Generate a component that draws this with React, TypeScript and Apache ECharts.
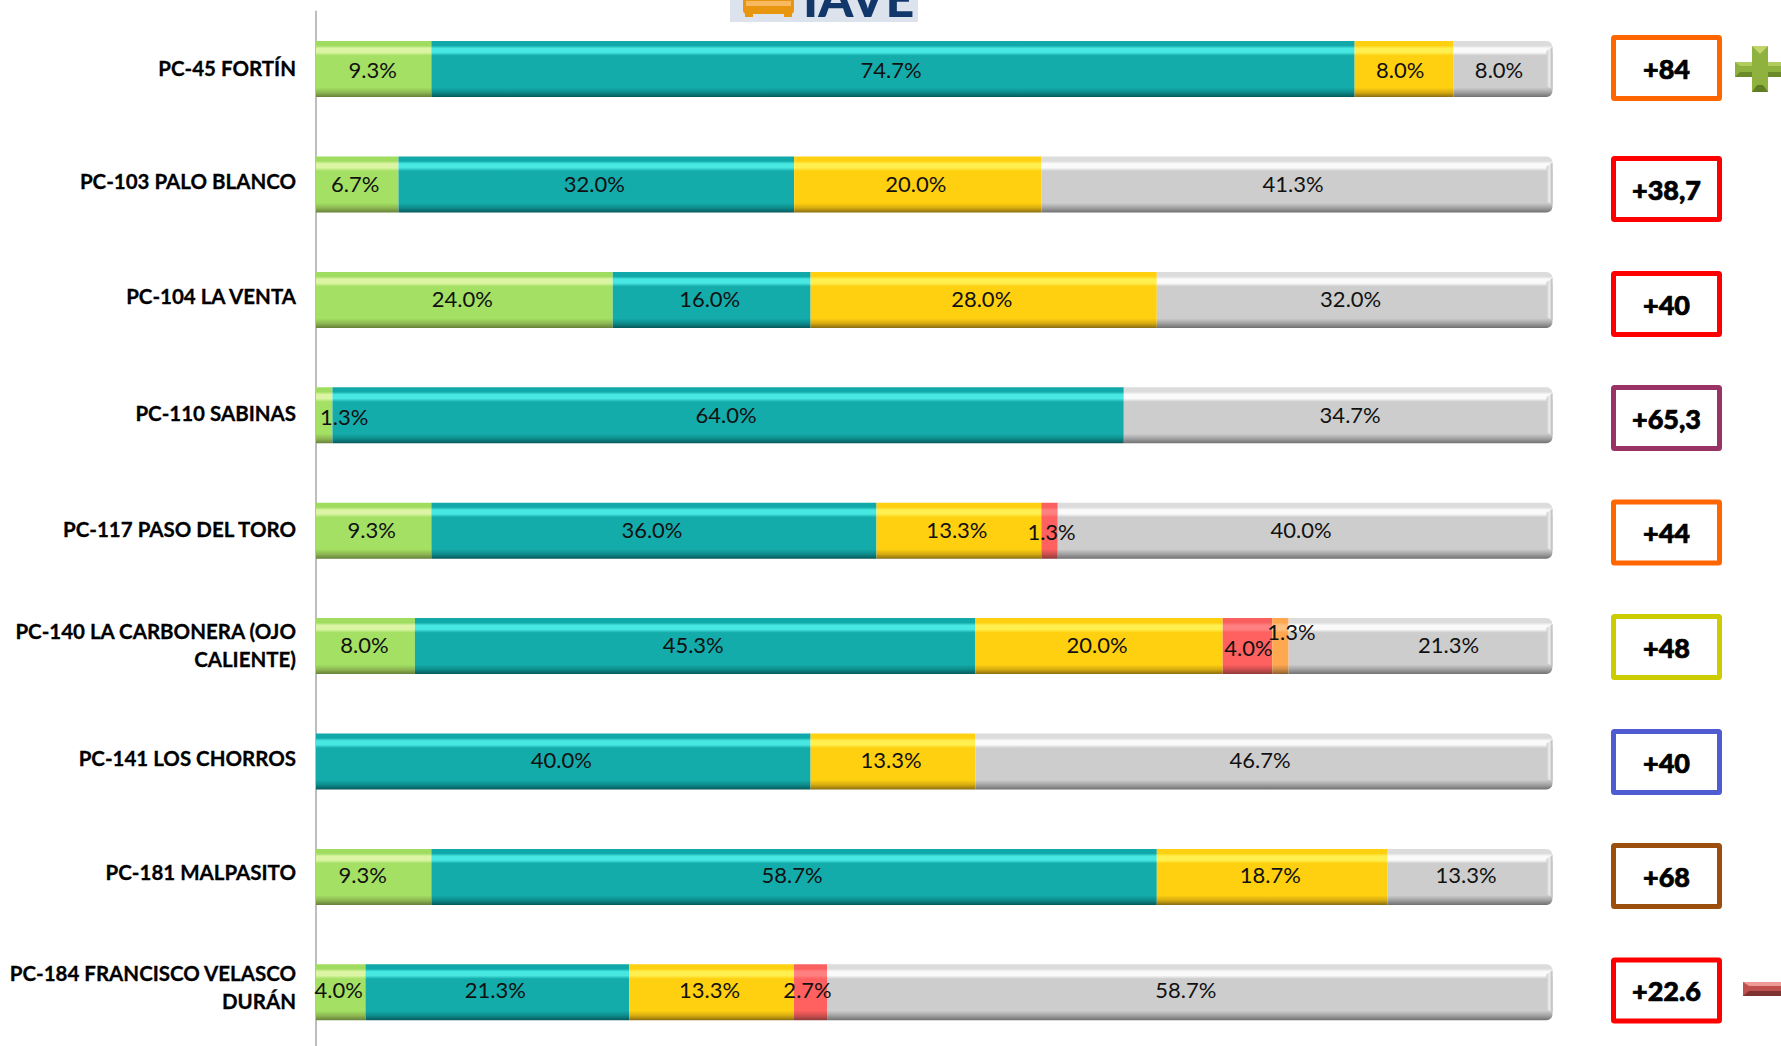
import React, { useEffect, useRef } from "react";
import * as echarts from "echarts";

const categories = [
  "PC-45 FORTÍN",
  "PC-103 PALO BLANCO",
  "PC-104 LA VENTA",
  "PC-110 SABINAS",
  "PC-117 PASO DEL TORO",
  "PC-140 LA CARBONERA (OJO\nCALIENTE)",
  "PC-141 LOS CHORROS",
  "PC-181 MALPASITO",
  "PC-184 FRANCISCO VELASCO\nDURÁN",
];
const greenValues = [9.33, 6.67, 24, 1.33, 9.33, 8, null, 9.33, 4];
const tealValues = [74.67, 32, 16, 64, 36, 45.33, 40, 58.67, 21.33];
const yellowValues = [8, 20, 28, null, 13.33, 20, 13.33, 18.67, 13.33];
const redValues = [null, null, null, null, 1.33, 4, null, null, 2.67];
const orangeValues = [null, null, null, null, null, 1.33, null, null, null];
const greyValues = [8, 41.33, 32, 34.67, 40, 21.33, 46.67, 13.33, 58.67];
const boxLabels = ["+84", "+38,7", "+40", "+65,3", "+44", "+48", "+40", "+68", "+22.6"];
const boxColors = ["#FF6600", "#FF0000", "#FF0000", "#993366", "#FF6600", "#CCCC00", "#4F5BD0", "#9C4F0C", "#FF0000"];
const boxCenters = [68, 189, 304, 418, 532.5, 647, 762, 876, 990.5];

// Hand-placed labels in the reference: "series:row" -> [dx, dy]
const labelNudges: Record<string, number[]> = {
  "0:3": [20, 2],
  "5:3": [12, 0],
  "3:4": [2, 2],
  "5:4": [-4, 0],
  "0:5": [-1, -1],
  "1:5": [-2, -1],
  "2:5": [-2, -1],
  "3:5": [1, 2],
  "4:5": [11, -14],
  "5:5": [28, -1],
  "0:7": [-11, 0],
  "0:0": [-1, 0],
  "2:0": [-4, 0],
  "3:8": [-3, 0],
};
const rowLabelDy = [0, -1, -1, -1, -1, -1, -2, -2, -3];
const categoryLabelPad = [3, 7.6, 8.6, 5, 3, 3, 7.6, 10, 11];

function bevel(top: string, light: string, base: string, low: string, dark: string) {
  return new echarts.graphic.LinearGradient(0, 0, 0, 1, [
    { offset: 0, color: top },
    { offset: 0.08, color: top },
    { offset: 0.13, color: light },
    { offset: 0.2, color: light },
    { offset: 0.26, color: base },
    { offset: 0.83, color: base },
    { offset: 0.92, color: low },
    { offset: 1, color: dark },
  ]);
}

const seriesDefs = [
  { name: "g", values: greenValues, fill: bevel("#a0dc60", "#dcf5a4", "#A3E063", "#8db652", "#66803a") },
  { name: "t", values: tealValues, fill: bevel("#10a8a8", "#48E8E2", "#14ABAB", "#0d8a8a", "#07585a") },
  { name: "y", values: yellowValues, fill: bevel("#ffd010", "#FFF050", "#FFD010", "#d5aa10", "#8a6c10") },
  { name: "r", values: redValues, fill: bevel("#fb6060", "#ff8080", "#FF6060", "#cc4e4e", "#8c3a3a") },
  { name: "o", values: orangeValues, fill: bevel("#ffa850", "#ffc080", "#FFA850", "#cc8a44", "#8a6030") },
  { name: "x", values: greyValues, fill: bevel("#dcdcdc", "#fafafa", "#CDCDCD", "#a0a0a0", "#707070") },
];

const FONT = "Lato";

function buildGraphics() {
  const els: any[] = [];
  // logo strip, cropped by the page top
  els.push({ type: "rect", shape: { x: 730, y: 0, width: 188, height: 22 }, style: { fill: "#DDE3EC" } });
  els.push({ type: "rect", shape: { x: 743, y: -6, width: 51, height: 20, r: 4 }, style: { fill: "#E8960F" } });
  els.push({ type: "rect", shape: { x: 746, y: 1, width: 45, height: 5 }, style: { fill: "#F8B860" } });
  els.push({ type: "rect", shape: { x: 745, y: 13, width: 8, height: 4 }, style: { fill: "#E8960F" } });
  els.push({ type: "rect", shape: { x: 784, y: 13, width: 8, height: 4 }, style: { fill: "#E8960F" } });
  els.push({
    type: "text", x: 803, y: 23,
    style: { text: "IAVE", fontFamily: FONT, fontWeight: 900, fontSize: 50, fill: "#12386B", verticalAlign: "bottom" },
  });
  // score boxes
  boxLabels.forEach((t, i) => {
    els.push({
      type: "rect",
      shape: { x: 1613.5, y: boxCenters[i] - 30.5, width: 106, height: 61, r: 1 },
      style: { fill: "#fff", stroke: boxColors[i], lineWidth: 5 },
    });
    els.push({
      type: "text", x: 1666.5, y: boxCenters[i],
      style: { text: t, fontFamily: FONT, fontWeight: 900, fontSize: 27, fill: "#000", stroke: "#000", lineWidth: 0.7, align: "center", verticalAlign: "middle" },
    });
  });
  // plus sign
  const plus = [[1752, 46], [1768, 46], [1768, 62], [1785, 62], [1785, 77], [1768, 77], [1768, 92], [1752, 92], [1752, 77], [1735, 77], [1735, 62], [1752, 62]];
  els.push({ type: "polygon", shape: { points: plus }, style: { fill: "#8FB23F" } });
  els.push({ type: "polygon", shape: { points: [[1752, 46], [1768, 46], [1760, 54]] }, style: { fill: "#BFD56C" } });
  els.push({ type: "polygon", shape: { points: [[1735, 62], [1752, 62], [1752, 66], [1740, 66]] }, style: { fill: "#B3CC60" } });
  els.push({ type: "polygon", shape: { points: [[1768, 62], [1785, 62], [1785, 66], [1768, 66]] }, style: { fill: "#B3CC60" } });
  els.push({ type: "polygon", shape: { points: [[1735, 77], [1752, 77], [1752, 72], [1740, 72]] }, style: { fill: "#6A8A28" } });
  els.push({ type: "polygon", shape: { points: [[1768, 77], [1785, 77], [1785, 72], [1768, 72]] }, style: { fill: "#6A8A28" } });
  els.push({ type: "polygon", shape: { points: [[1752, 92], [1768, 92], [1763, 85], [1757, 85]] }, style: { fill: "#5F7D22" } });
  // minus sign
  els.push({ type: "rect", shape: { x: 1743, y: 982, width: 40, height: 14 }, style: { fill: "#C0504D" } });
  els.push({ type: "polygon", shape: { points: [[1743, 982], [1785, 982], [1785, 986], [1749, 986]] }, style: { fill: "#EE9A96" } });
  els.push({ type: "polygon", shape: { points: [[1743, 996], [1785, 996], [1785, 991], [1749, 991]] }, style: { fill: "#7E3331" } });
  return els;
}

const categoryRich: Record<string, any> = {
  l: { fontFamily: FONT, fontWeight: 700, fontSize: 20.5, lineHeight: 28, color: "#000", align: "right", textBorderColor: "#000", textBorderWidth: 0.3 },
};
categoryLabelPad.forEach((p, i) => {
  categoryRich[`s${i}`] = { fontSize: 1, lineHeight: p, height: p, color: "transparent" };
});

export default function App() {
  const ref = useRef<HTMLDivElement>(null);
  useEffect(() => {
    document.body.style.margin = "0";
    document.documentElement.style.overflow = "hidden";
    const chart = echarts.init(ref.current!, undefined, { renderer: "svg" });
    chart.setOption({
      animation: false,
      backgroundColor: "#fff",
      grid: { left: 316, top: 11.4, width: 1236.5, height: 1038.6, containLabel: false },
      xAxis: { type: "value", min: 0, max: 100, show: false },
      yAxis: {
        type: "category",
        inverse: true,
        data: categories,
        axisTick: { show: false },
        axisLine: { show: true, lineStyle: { color: "#BDBDBD", width: 2 } },
        axisLabel: {
          margin: 20,
          align: "right",
          formatter: (v: string, i: number) =>
            v.split("\n").map((line) => `{l|${line}}`).join("\n") + `\n{s${i}| }`,
          rich: categoryRich,
        },
      },
      series: [
        ...seriesDefs.map((s, si) => ({
          type: "bar",
          name: s.name,
          stack: "all",
          barWidth: 56,
          data: s.values.map((v, i) => {
            const n = labelNudges[`${si}:${i}`] || (si === 5 ? [-4, 0] : [-2, 0]);
            return {
              value: v,
              label: { offset: [n[0], n[1] + rowLabelDy[i]] },
              itemStyle: si === 5 ? { borderRadius: [0, 6, 6, 0] } : undefined,
            };
          }),
          itemStyle: { color: s.fill },
          label: {
            show: true,
            position: "inside",
            fontFamily: FONT,
            fontSize: 22,
            color: "#111",
            formatter: (p: any) => (p.value == null ? "" : `${Number(p.value).toFixed(1)}%`),
          },
          silent: true,
        })),
        {
          type: "custom",
          coordinateSystem: "cartesian2d",
          silent: true,
          clip: false,
          z: 5,
          data: categories.map((_, i) => [100, i]),
          encode: { x: 0, y: 1 },
          renderItem: (_: any, api: any) => {
            const c = api.coord([api.value(0), api.value(1)]);
            const top = c[1] - 28;
            return {
              type: "group",
              children: [
                {
                  type: "polygon",
                  shape: { points: [[c[0] - 6, top + 10], [c[0], top + 6], [c[0], top + 48], [c[0] - 6, top + 45]] },
                  style: {
                    fill: new echarts.graphic.LinearGradient(1, 0, 0, 0, [
                      { offset: 0, color: "#b4b4b4" },
                      { offset: 0.5, color: "#ececec" },
                      { offset: 1, color: "#CDCDCD" },
                    ]),
                  },
                },
              ],
            };
          },
        },
      ],
      graphic: buildGraphics(),
    });
    return () => chart.dispose();
  }, []);
  return (
    <div style={{ position: "absolute", left: 0, top: 0, width: 1781, height: 1046, overflow: "hidden" }}>
      <div ref={ref} style={{ width: 1781, height: 1060 }} />
    </div>
  );
}
